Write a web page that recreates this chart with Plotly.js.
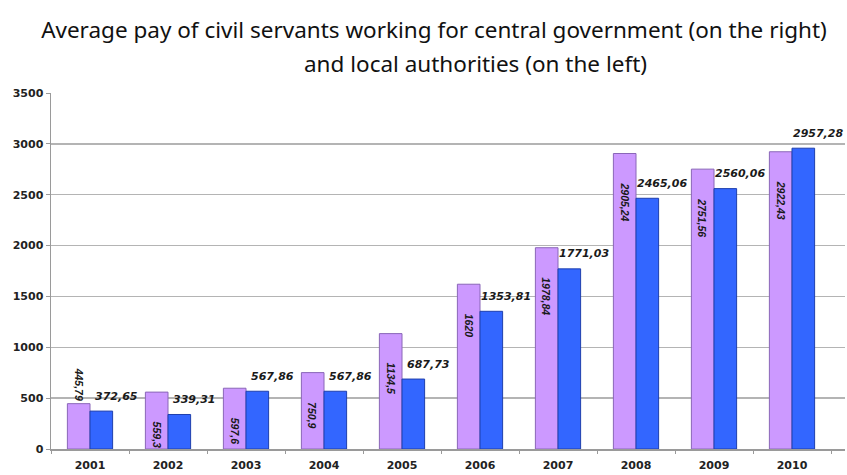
<!DOCTYPE html>
<html>
<head>
<meta charset="utf-8">
<script src="https://cdn.plot.ly/plotly-3.0.1.min.js"></script>
<style>html,body{margin:0;padding:0;background:#fff;}#chart{width:847px;height:475px;}</style>
</head>
<body>
<div id="chart"></div>
<script>
var years = ['2001','2002','2003','2004','2005','2006','2007','2008','2009','2010'];
var localAuthorities = [445.79, 559.3, 597.6, 750.9, 1134.5, 1620, 1978.84, 2905.24, 2751.56, 2922.43];
var centralGovernment = [372.65, 339.31, 567.86, 567.86, 687.73, 1353.81, 1771.03, 2465.06, 2560.06, 2957.28];
var localLabels = ['445,79','559,3','597,6','750,9','1134,5','1620','1978,84','2905,24','2751,56','2922,43'];
var centralLabels = ['372,65','339,31','567,86','567,86','687,73','1353,81','1771,03','2465,06','2560,06','2957,28'];

var titleLine1 = 'Average pay of civil servants working for central government (on the right)';
var titleLine2 = 'and local authorities (on the left)';

var traces = [
  {type:'bar', x:years, y:localAuthorities, name:'Local authorities',
   marker:{color:'#CC99FF', line:{color:'#8a66b8', width:1}}, hoverinfo:'x+y'},
  {type:'bar', x:years, y:centralGovernment, name:'Central government',
   marker:{color:'#3366FF', line:{color:'#1f3fae', width:1}}, hoverinfo:'x+y'}
];

var annotations = [];
years.forEach(function(yr, i){
  var short = localAuthorities[i] < 500;
  // category axis: use the category index so "2001" is not read as index 2001
  annotations.push({
    x: i, y: localAuthorities[i], xref:'x', yref:'y',
    text: '<b><i>' + localLabels[i] + '</i></b>', showarrow:false, textangle:90,
    xshift:-11.5, yanchor: short ? 'bottom' : 'top', yshift: short ? 1 : -27,
    font: {family:'"Liberation Sans", Arial, sans-serif', size:10.5, color:'#1a1a1a'}
  });
  annotations.push({
    x: i, y: centralGovernment[i], xref:'x', yref:'y',
    text: '<b><i>' + centralLabels[i] + '</i></b>', showarrow:false,
    xshift:26, yanchor:'middle', yshift:15,
    font: {family:'"DejaVu Sans", sans-serif', size:11, color:'#1a1a1a'}
  });
});
annotations.push({
  text: titleLine2, xref:'paper', yref:'paper', x:0.535, y:1.084,
  xanchor:'center', yanchor:'middle', showarrow:false,
  font:{family:'"Noto Sans", "Open Sans", sans-serif', size:22.5, color:'#111'}
});

var tickFont = {family:'"DejaVu Sans", sans-serif', size:11, color:'#222', weight:'bold'};

var layout = {
  width:847, height:475,
  margin:{l:51, r:2, t:93, b:26},
  paper_bgcolor:'#fff', plot_bgcolor:'#fff',
  showlegend:false,
  barmode:'group', bargap:0.42, bargroupgap:0,
  title:{text:titleLine1, xref:'container', yref:'container', x:0.5124, y:0.9368,
         xanchor:'center', yanchor:'middle',
         font:{family:'"Noto Sans", "Open Sans", sans-serif', size:22.5, color:'#111'}},
  xaxis:{type:'category', showline:true, linecolor:'#9a9a9a', linewidth:1.5,
         ticks:'outside', tickson:'boundaries', ticklen:3, tickcolor:'#9a9a9a',
         ticklabelstandoff:5,
         tickfont:tickFont, showgrid:false, zeroline:false},
  yaxis:{range:[0,3500], dtick:500, showline:true, linecolor:'#9a9a9a', linewidth:1.5,
         ticks:'outside', ticklen:4, tickcolor:'#9a9a9a', tickfont:tickFont,
         showgrid:true, gridcolor:'#b4b4b4', gridwidth:1.5, zeroline:false},
  annotations: annotations
};

Plotly.newPlot('chart', traces, layout, {displayModeBar:false, staticPlot:true});
</script>
</body>
</html>
